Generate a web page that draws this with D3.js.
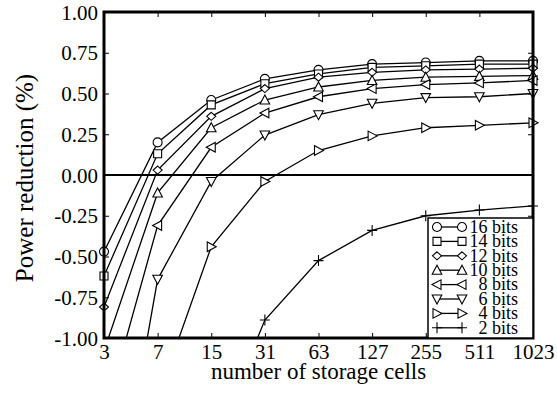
<!DOCTYPE html>
<html>
<head>
<meta charset="utf-8">
<script src="https://cdn.jsdelivr.net/npm/d3@7"></script>
<style>
  html, body { margin: 0; padding: 0; background: #fff; }
  svg { display: block; }
</style>
</head>
<body>
<svg id="chart" width="557" height="396"></svg>
<script>
// ---- data ----
const categories = ["3", "7", "15", "31", "63", "127", "255", "511", "1023"];
const yTicks = [-1.00, -0.75, -0.50, -0.25, 0.00, 0.25, 0.50, 0.75, 1.00];
const seriesNames = ["16 bits", "14 bits", "12 bits", "10 bits", "8 bits", "6 bits", "4 bits", "2 bits"];
const markerTypes = ["circle", "square", "diamond", "triUp", "triLeft", "triDown", "triRight", "plus"];
const bits16 = [-0.47, 0.20, 0.46, 0.59, 0.645, 0.68, 0.69, 0.70, 0.70];
const bits14 = [-0.62, 0.13, 0.43, 0.56, 0.62, 0.66, 0.67, 0.68, 0.68];
const bits12 = [-0.81, 0.03, 0.36, 0.53, 0.60, 0.63, 0.645, 0.65, 0.655];
const bits10 = [-1.08, -0.11, 0.29, 0.46, 0.54, 0.58, 0.60, 0.605, 0.61];
const bits8  = [-1.49, -0.31, 0.17, 0.38, 0.48, 0.53, 0.555, 0.565, 0.58];
const bits6  = [-2.50, -0.64, -0.04, 0.245, 0.37, 0.44, 0.475, 0.48, 0.50];
const bits4  = [null, -1.37, -0.44, -0.04, 0.15, 0.24, 0.29, 0.305, 0.32];
const bits2  = [null, null, -1.69, -0.89, -0.525, -0.34, -0.25, -0.215, -0.19];
const seriesValues = [bits16, bits14, bits12, bits10, bits8, bits6, bits4, bits2];

// ---- layout ----
const W = 557, H = 396;
const margin = { left: 104, top: 12, right: 24, bottom: 58 };
const iw = W - margin.left - margin.right;
const ih = H - margin.top - margin.bottom;
const FONT = "Liberation Serif";

const svg = d3.select("#chart");
const g = svg.append("g").attr("transform", `translate(${margin.left},${margin.top})`);

const x = d3.scalePoint().domain(categories).range([0, iw]).padding(0);
const y = d3.scaleLinear().domain([-1, 1]).range([ih, 0]);

svg.append("defs").append("clipPath").attr("id", "plotclip")
  .append("rect").attr("x", 0).attr("y", 0).attr("width", iw).attr("height", ih);

// marker path generators (shape only)
function markerPath(type) {
  const p = d3.path();
  const r = 4.5;
  switch (type) {
    case "circle": p.arc(0, 0, r, 0, 2 * Math.PI); break;
    case "square": p.rect(-4, -4, 8, 8); break;
    case "diamond": p.moveTo(0, -4); p.lineTo(4.5, 0); p.lineTo(0, 4); p.lineTo(-4.5, 0); p.closePath(); break;
    case "triUp": p.moveTo(0, -5); p.lineTo(4.8, 4); p.lineTo(-4.8, 4); p.closePath(); break;
    case "triDown": p.moveTo(0, 5); p.lineTo(4.8, -4); p.lineTo(-4.8, -4); p.closePath(); break;
    case "triLeft": p.moveTo(-5, 0); p.lineTo(4, -4.8); p.lineTo(4, 4.8); p.closePath(); break;
    case "triRight": p.moveTo(5, 0); p.lineTo(-4, -4.8); p.lineTo(-4, 4.8); p.closePath(); break;
    case "plus": p.moveTo(-5, 0); p.lineTo(5, 0); p.moveTo(0, -5.5); p.lineTo(0, 5.5); break;
  }
  return p.toString();
}

// ---- axes ----
const fmt = d => d.toFixed(2);
const yAxis = g.append("g").call(d3.axisLeft(y).tickValues(yTicks).tickFormat(fmt)
  .tickSizeInner(-5).tickSizeOuter(0).tickPadding(6));
const yAxisR = g.append("g").attr("transform", `translate(${iw},0)`)
  .call(d3.axisRight(y).tickValues(yTicks).tickFormat("").tickSizeInner(-5).tickSizeOuter(0));
const xAxis = g.append("g").attr("transform", `translate(0,${ih})`)
  .call(d3.axisBottom(x).tickSizeInner(-5).tickSizeOuter(0).tickPadding(6));
const xAxisT = g.append("g")
  .call(d3.axisTop(x).tickFormat("").tickSizeInner(-5).tickSizeOuter(0));

[yAxis, yAxisR, xAxis, xAxisT].forEach(a => {
  a.attr("font-family", FONT).attr("font-size", 21);
  a.select(".domain").remove();
  a.selectAll(".tick line").attr("stroke", "#000").attr("stroke-width", 1);
  a.selectAll("text").attr("fill", "#000");
});
yAxis.selectAll("text").attr("dy", "0.34em");
xAxis.selectAll("text").attr("dy", "0.72em");

// zero line
g.append("line").attr("x1", 0).attr("x2", iw).attr("y1", y(0)).attr("y2", y(0))
  .attr("stroke", "#000").attr("stroke-width", 2);

// ---- series ----
const line = d3.line()
  .defined(d => d.v !== null)
  .x(d => x(d.c)).y(d => y(d.v));

seriesValues.forEach((vals, si) => {
  const pts = categories.map((c, i) => ({ c, v: vals[i] }));
  g.append("path").datum(pts)
    .attr("clip-path", "url(#plotclip)")
    .attr("fill", "none").attr("stroke", "#000").attr("stroke-width", 1.3)
    .attr("d", line);
});
seriesValues.forEach((vals, si) => {
  const pts = categories.map((c, i) => ({ c, v: vals[i] }))
    .filter(d => d.v !== null && d.v >= -1 && d.v <= 1);
  g.selectAll(null).data(pts).enter().append("path")
    .attr("transform", d => `translate(${x(d.c)},${y(d.v)})`)
    .attr("d", markerPath(markerTypes[si]))
    .attr("fill", markerTypes[si] === "plus" ? "none" : "#fff")
    .attr("stroke", "#000").attr("stroke-width", 1.1);
});

// frame
g.append("rect").attr("x", 0).attr("y", 0).attr("width", iw).attr("height", ih)
  .attr("fill", "none").attr("stroke", "#000").attr("stroke-width", 3);

// ---- legend ----
const lg = g.append("g");
const lgLeft = 324, lgTop = 206, rowH = 14.4;
lg.append("rect").attr("x", lgLeft).attr("y", lgTop).attr("width", iw - lgLeft).attr("height", ih - lgTop)
  .attr("fill", "#fff").attr("stroke", "#000").attr("stroke-width", 1.5);
seriesNames.forEach((name, i) => {
  const cy = lgTop + 9 + i * rowH;
  const x1 = lgLeft + 9, x2 = lgLeft + 34;
  lg.append("line").attr("x1", x1).attr("x2", x2).attr("y1", cy).attr("y2", cy)
    .attr("stroke", "#000").attr("stroke-width", 1.3);
  [x1, x2].forEach(mx => {
    lg.append("path").attr("transform", `translate(${mx},${cy})`)
      .attr("d", markerPath(markerTypes[i]))
      .attr("fill", markerTypes[i] === "plus" ? "none" : "#fff")
      .attr("stroke", "#000").attr("stroke-width", 1.1);
  });
  lg.append("text").attr("x", lgLeft + 90).attr("y", cy).attr("dy", "0.32em")
    .attr("text-anchor", "end").attr("font-family", FONT).attr("font-size", 18).text(name);
});

// ---- axis titles ----
svg.append("text").attr("x", margin.left + iw / 2).attr("y", 379)
  .attr("text-anchor", "middle").attr("font-family", FONT).attr("font-size", 23).text("number of storage cells");
svg.append("text").attr("transform", "translate(33,178) rotate(-90)")
  .attr("text-anchor", "middle").attr("font-family", FONT).attr("font-size", 25).text("Power reduction (%)");
</script>
</body>
</html>
